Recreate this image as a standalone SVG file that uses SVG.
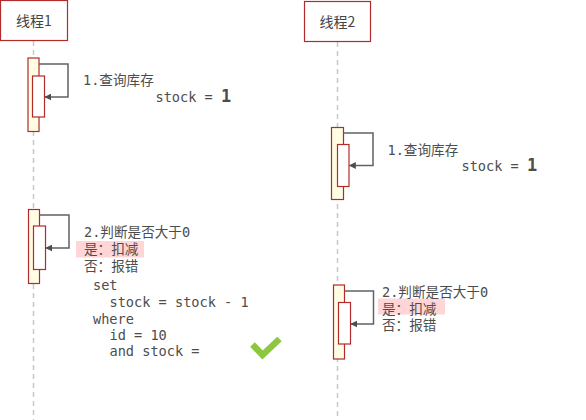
<svg xmlns="http://www.w3.org/2000/svg" width="586" height="420" viewBox="0 0 586 420">
<defs>
<style>
.head{fill:#fff;stroke:#b22a2a;stroke-width:1.2}
.htxt{font-family:"Noto Sans CJK SC","Liberation Sans",sans-serif;font-size:14px;fill:#444;text-anchor:middle}
.life{stroke:#c8c8c8;stroke-width:1.5;stroke-dasharray:5 4;fill:none}
.act{fill:#fffde3;stroke:#b22a2a;stroke-width:1.2}
.act2{fill:#fff;stroke:#b22a2a;stroke-width:1.2}
.msg{fill:none;stroke:#5f6365;stroke-width:1.5}
.t{font-family:"DejaVu Sans Mono","Noto Sans CJK SC",monospace;font-size:13.6px;fill:#4d4d4d;white-space:pre}
.big{font-family:"DejaVu Sans Mono",monospace;font-size:17px;font-weight:bold;fill:#4d4d4d}
.hl{fill:#ffd5d5}
</style>
<marker id="ah" viewBox="0 0 10 10" refX="9" refY="5" markerWidth="7" markerHeight="7" orient="auto" markerUnits="userSpaceOnUse">
<path d="M0,0 L10,5 L0,10 z" fill="#4a4e50"/>
</marker>
</defs>
<g id="lifelines">
<line class="life" x1="33.5" y1="41" x2="33.5" y2="420"/>
<line class="life" x1="337.5" y1="42" x2="337.5" y2="420"/>
</g>
<g id="thread1">
<rect class="head" x="0.5" y="0.5" width="67" height="40"/>
<text class="htxt" x="34" y="25.5">线程1</text>
</g>
<g id="thread2">
<rect class="head" x="304.5" y="1.5" width="66" height="40"/>
<text class="htxt" x="337.5" y="26.5">线程2</text>
</g>
<g id="act1a">
<rect class="act" x="28" y="58" width="11" height="73.5"/>
<rect class="act2" x="32.5" y="76" width="12" height="41"/>
</g>
<g id="act2a">
<rect class="act" x="331.5" y="127.5" width="12" height="72"/>
<rect class="act2" x="337.5" y="144.5" width="11.5" height="42"/>
</g>
<g id="act1b">
<rect class="act" x="28.5" y="209.5" width="11" height="74"/>
<rect class="act2" x="33.5" y="226" width="12" height="43.5"/>
</g>
<g id="act2b">
<rect class="act" x="333.5" y="285" width="11" height="74"/>
<rect class="act2" x="338.5" y="302.5" width="12" height="41.5"/>
</g>
<g id="connectors">
<path class="msg" d="M39,64 H68 V97 H45" marker-end="url(#ah)"/>
<path class="msg" d="M343.5,133 H373 V165.5 H349.5" marker-end="url(#ah)"/>
<path class="msg" d="M39.5,215 H69 V248 H46" marker-end="url(#ah)"/>
<path class="msg" d="M344.5,291 H373.5 V324 H351" marker-end="url(#ah)"/>
</g>
<g id="labels">
<text class="t" x="83" y="85">1.查询库存</text>
<text class="t" x="155.5" y="102">stock = <tspan class="big">1</tspan></text>
<text class="t" x="387.5" y="155">1.查询库存</text>
<text class="t" x="461.5" y="171">stock = <tspan class="big">1</tspan></text>
<rect class="hl" x="76" y="241" width="68" height="16.5"/>
<text class="t" x="84" y="237">2.判断是否大于0</text>
<text class="t" x="84" y="254">是：扣减</text>
<text class="t" x="84" y="271">否：报错</text>
<text class="t" x="93" y="290">set</text>
<text class="t" x="109.5" y="307">stock = stock - 1</text>
<text class="t" x="93" y="323.5">where</text>
<text class="t" x="109.5" y="340">id = 10</text>
<text class="t" x="109.5" y="356">and stock =</text>
<rect class="hl" x="378" y="298.5" width="67" height="16"/>
<text class="t" x="382" y="297">2.判断是否大于0</text>
<text class="t" x="382" y="313.5">是：扣减</text>
<text class="t" x="382" y="330">否：报错</text>
</g>
<g id="check">
<polyline points="252.5,344.5 262.5,355 279.5,339" fill="none" stroke="#8dc73f" stroke-width="6.5" stroke-linejoin="miter"/>
</g>
</svg>
